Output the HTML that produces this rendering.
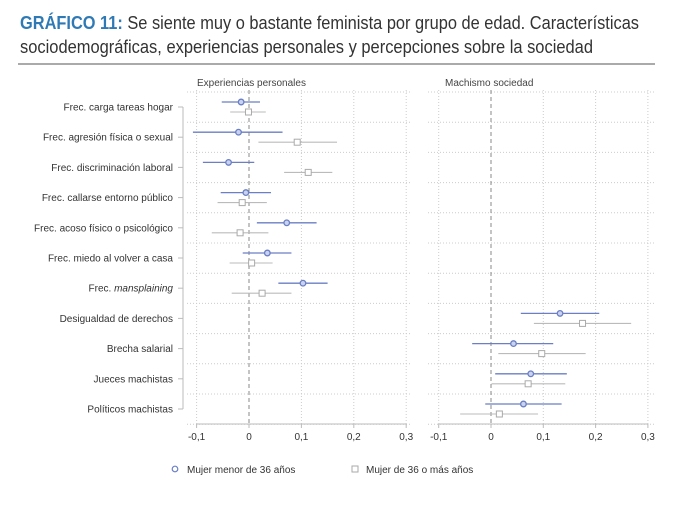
<!DOCTYPE html>
<html><head><meta charset="utf-8"><style>
body{margin:0;background:#fff;}
svg text{font-family:"Liberation Sans",sans-serif;}
</style></head><body>
<svg id="chart" width="680" height="513" xmlns="http://www.w3.org/2000/svg">
<text x="20" y="29" font-size="18" textLength="619" lengthAdjust="spacingAndGlyphs"><tspan fill="#2f7ab5" font-weight="bold">GRÁFICO 11:</tspan><tspan fill="#333"> Se siente muy o bastante feminista por grupo de edad. Características</tspan></text>
<text x="20" y="53" font-size="18" fill="#333" textLength="573" lengthAdjust="spacingAndGlyphs">sociodemográficas, experiencias personales y percepciones sobre la sociedad</text>
<line x1="18" y1="64" x2="655" y2="64" stroke="#555" stroke-width="1"/>
<text x="197" y="86" font-size="10" fill="#444">Experiencias personales</text>
<text x="445" y="86" font-size="10" fill="#444">Machismo sociedad</text>
<g id="grid"></g><g id="axes"></g><g id="marks"></g>
<g>
<circle cx="175" cy="469" r="2.8" fill="none" stroke="#6a7fc4" stroke-width="1.2"/>
<text x="187" y="473" font-size="10" fill="#333">Mujer menor de 36 años</text>
<rect x="352" y="466" width="6" height="6" fill="none" stroke="#aaa"/>
<text x="366" y="473" font-size="10" fill="#333">Mujer de 36 o más años</text>
</g>
</svg>
<script>
const categories=["Frec. carga tareas hogar","Frec. agresión física o sexual","Frec. discriminación laboral","Frec. callarse entorno público","Frec. acoso físico o psicológico","Frec. miedo al volver a casa","Frec. mansplaining","Desigualdad de derechos","Brecha salarial","Jueces machistas","Políticos machistas"];
const panelOf=[0,0,0,0,0,0,0,1,1,1,1];
const youngEst=[-0.015,-0.020,-0.039,-0.006,0.072,0.035,0.103,0.132,0.043,0.076,0.062];
const youngLo=[-0.052,-0.107,-0.088,-0.054,0.015,-0.012,0.056,0.057,-0.036,0.008,-0.011];
const youngHi=[0.021,0.064,0.010,0.042,0.129,0.081,0.150,0.207,0.119,0.145,0.135];
const oldEst=[-0.001,0.092,0.113,-0.013,-0.017,0.005,0.025,0.175,0.097,0.071,0.016];
const oldLo=[-0.036,0.018,0.067,-0.060,-0.071,-0.037,-0.033,0.082,0.014,0.001,-0.059];
const oldHi=[0.032,0.168,0.159,0.034,0.037,0.045,0.081,0.268,0.181,0.142,0.090];
const ticks=[-0.1,0,0.1,0.2,0.3];
const tickLabels=["-0,1","0","0,1","0,2","0,3"];
const NS="http://www.w3.org/2000/svg";
const zeroX=[249,491], pxPer=[524,523];
function xs(p,v){return zeroX[p]+v*pxPer[p];}
function ys(i){return 107+i*30.2;}
function mk(tag,attrs,parent){const e=document.createElementNS(NS,tag);for(const k in attrs)e.setAttribute(k,attrs[k]);parent.appendChild(e);return e;}
const grid=document.getElementById('grid'),axes=document.getElementById('axes'),marks=document.getElementById('marks');
const panelX=[[187,410],[428,655]];
for(let p=0;p<2;p++){
  for(let k=0;k<12;k++){
    const y=ys(k)-15;
    const l=mk('line',{x1:panelX[p][0],x2:panelX[p][1],y1:y,y2:y,stroke:'#ccc','stroke-dasharray':'1,2'},grid);
    
    
  }
  ticks.forEach((t,j)=>{
    const x=xs(p,t);
    const l=mk('line',{x1:x,x2:x,y1:90,y2:424,stroke:t===0?'#888':'#ccc','stroke-dasharray':t===0?'4,3':'1,2'},grid);
    
    
    const tk=mk('line',{x1:x,x2:x,y1:424,y2:428,stroke:'#bbb'},axes);
    
    
    const tx=mk('text',{x:x,y:440,'font-size':10,fill:'#333','text-anchor':'middle'},axes);
    tx.textContent=tickLabels[j];
    
    
  });
  const ax=mk('line',{x1:xs(p,-0.1),x2:xs(p,0.3),y1:424,y2:424,stroke:'#bbb'},axes);
  
  
}
const ya=mk('line',{x1:183,x2:183,y1:ys(0),y2:ys(10),stroke:'#bbb'},axes);


categories.forEach((c,i)=>{
  const y=ys(i),p=panelOf[i];
  const t=mk('line',{x1:178,x2:183,y1:y,y2:y,stroke:'#bbb'},axes);
  
  
  const tx=mk('text',{x:173,y:y+3.5,'font-size':10,fill:'#333','text-anchor':'end'},axes);
  if(c==="Frec. mansplaining"){tx.innerHTML='Frec. <tspan font-style="italic">mansplaining</tspan>';}else tx.textContent=c;
  
  
  const yb=y-5,yg=y+5;
  const l1=mk('line',{x1:xs(p,youngLo[i]),x2:xs(p,youngHi[i]),y1:yb,y2:yb,stroke:'#6a7fc4','stroke-width':1.3},marks);
  
  
  const c1=mk('circle',{cx:xs(p,youngEst[i]),cy:yb,r:2.8,fill:'#c9d2ee',stroke:'#6a7fc4','stroke-width':1.3},marks);
  
  
  const l2=mk('line',{x1:xs(p,oldLo[i]),x2:xs(p,oldHi[i]),y1:yg,y2:yg,stroke:'#bbb','stroke-width':1.1},marks);
  
  
  const r=mk('rect',{x:xs(p,oldEst[i])-3,y:yg-3,width:6,height:6,fill:'#fff',stroke:'#aaa'},marks);
  
  
});
</script>
</body></html>
